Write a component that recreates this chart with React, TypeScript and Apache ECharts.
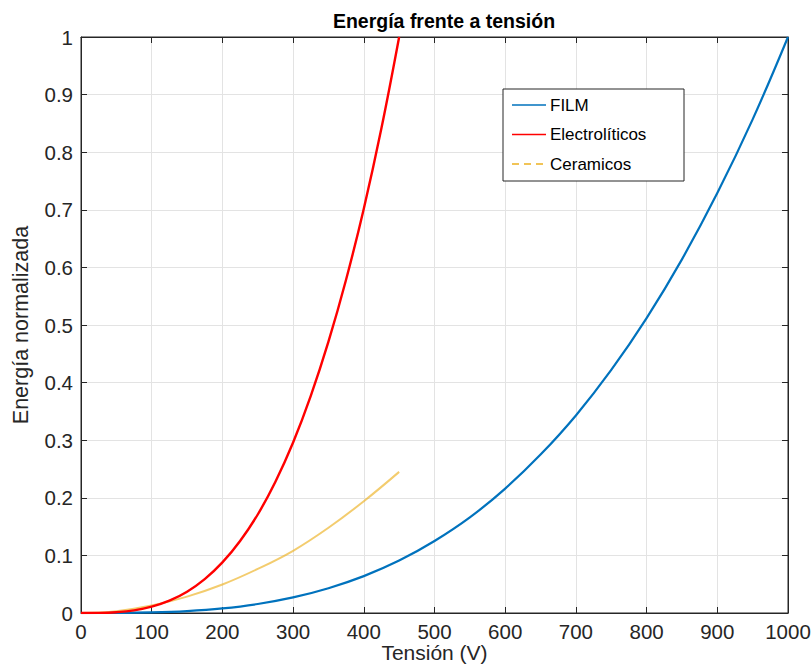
import React, { useEffect, useRef } from "react";
import * as echarts from "echarts";

const filmV = [0, 50, 100, 150, 200, 250, 300, 350, 400, 450, 500, 550, 600, 650, 700, 750, 800, 850, 900, 950, 1000];
const filmE = [0, 0.0001, 0.001, 0.0034, 0.008, 0.0156, 0.027, 0.043, 0.064, 0.091, 0.125, 0.166, 0.216, 0.275, 0.343, 0.422, 0.512, 0.614, 0.729, 0.857, 1.0];

const elecV = [0, 25, 50, 75, 100, 125, 150, 175, 200, 225, 250, 275, 300, 325, 350, 375, 400, 425, 450];
const elecE = [0, 0.0002, 0.0014, 0.0046, 0.011, 0.0214, 0.037, 0.0588, 0.0878, 0.125, 0.171, 0.228, 0.296, 0.377, 0.471, 0.579, 0.702, 0.842, 1.0];

const ceraV = [0, 50, 100, 150, 200, 250, 300, 350, 400, 450];
const ceraE = [0, 0.0032, 0.013, 0.0285, 0.0495, 0.0765, 0.108, 0.148, 0.194, 0.245];

const xTicks = [0, 100, 200, 300, 400, 500, 600, 700, 800, 900, 1000];
const yTicks = [0, 0.1, 0.2, 0.3, 0.4, 0.5, 0.6, 0.7, 0.8, 0.9, 1];

const FONT = "Liberation Sans, Arial, Helvetica, sans-serif";

export default function App() {
  const ref = useRef<HTMLDivElement>(null);
  useEffect(() => {
    if (!ref.current) return;
    const chart = echarts.init(ref.current, undefined, { renderer: "svg" });
    const pairs = (xs: number[], ys: number[]) => xs.map((x, i) => [x, ys[i]]);
    const axisCommon = {
      min: xTicks[0],
      max: xTicks[xTicks.length - 1],
      interval: 100,
    };
    const legendX = 503;
    const legendY = 89;
    const legendItems = [
      { name: "FILM", color: "#0072BD", dash: false },
      { name: "Electrolíticos", color: "#FF0000", dash: false },
      { name: "Ceramicos", color: "#EDB120", dash: true },
    ];
    const legendGraphics: any[] = [
      {
        type: "rect",
        shape: { x: legendX, y: legendY, width: 181, height: 92 },
        style: { fill: "#ffffff", stroke: "#262626", lineWidth: 1 },
        z: 100,
      },
    ];
    legendItems.forEach((it, i) => {
      const cy = legendY + 16 + i * 29.5;
      legendGraphics.push({
        type: "line",
        shape: { x1: legendX + 9, y1: cy, x2: legendX + 43, y2: cy },
        style: {
          stroke: it.color,
          lineWidth: 1.6,
          lineDash: it.dash ? [7, 5] : null,
        },
        z: 101,
      });
      legendGraphics.push({
        type: "text",
        x: legendX + 47,
        y: cy,
        style: {
          text: it.name,
          fill: "#000000",
          font: `17px ${FONT}`,
          verticalAlign: "middle",
          align: "left",
        },
        z: 101,
      });
    });

    chart.setOption({
      animation: false,
      backgroundColor: "#ffffff",
      title: {
        text: "Energía frente a tensión",
        left: 439,
        top: 6,
        textAlign: "center",
        textStyle: { fontFamily: FONT, fontSize: 19.5, fontWeight: "bold", color: "#000000" },
      },
      grid: {
        left: 81,
        right: 24,
        top: 37,
        bottom: 54,
        containLabel: false,
        outerBoundsMode: "none",
        show: true,
        borderColor: "#262626",
        borderWidth: 1,
      },
      xAxis: [
        {
          type: "value",
          ...axisCommon,
          name: "Tensión (V)",
          nameLocation: "middle",
          nameGap: 29,
          nameMoveOverlap: false,
          nameTextStyle: {
            fontFamily: FONT,
            fontSize: 21,
            color: "#262626",
            lineHeight: 21,
            verticalAlign: "top",
          },
          axisLine: { show: true, onZero: false, lineStyle: { color: "#262626", width: 1 } },
          axisTick: { show: true, inside: true, length: 6, lineStyle: { color: "#262626" } },
          axisLabel: {
            fontFamily: FONT,
            fontSize: 20.5,
            color: "#262626",
            margin: 8,
            formatter: (v: number) => String(v),
          },
          splitLine: { show: true, lineStyle: { color: "#e3e3e3", width: 1 } },
        },
        {
          type: "value",
          ...axisCommon,
          position: "top",
          axisLine: { show: true, onZero: false, lineStyle: { color: "#262626", width: 1 } },
          axisTick: { show: true, inside: true, length: 6, lineStyle: { color: "#262626" } },
          axisLabel: { show: false },
          splitLine: { show: false },
        },
      ],
      yAxis: [
        {
          type: "value",
          min: 0,
          max: 1,
          interval: 0.1,
          name: "Energía normalizada",
          nameLocation: "middle",
          nameGap: 49,
          nameMoveOverlap: false,
          nameTextStyle: { fontFamily: FONT, fontSize: 21.5, color: "#262626" },
          axisLine: { show: true, onZero: false, lineStyle: { color: "#262626", width: 1 } },
          axisTick: { show: true, inside: true, length: 6, lineStyle: { color: "#262626" } },
          axisLabel: {
            fontFamily: FONT,
            fontSize: 20.5,
            color: "#262626",
            margin: 8,
            formatter: (v: number) => {
              const t = yTicks.find((y) => Math.abs(y - v) < 1e-9);
              return t === undefined ? "" : String(Math.round(t * 10) / 10);
            },
          },
          splitLine: { show: true, lineStyle: { color: "#e3e3e3", width: 1 } },
        },
        {
          type: "value",
          min: 0,
          max: 1,
          interval: 0.1,
          position: "right",
          axisLine: { show: true, onZero: false, lineStyle: { color: "#262626", width: 1 } },
          axisTick: { show: true, inside: true, length: 6, lineStyle: { color: "#262626" } },
          axisLabel: { show: false },
          splitLine: { show: false },
        },
      ],
      series: [
        {
          name: "FILM",
          type: "line",
          data: pairs(filmV, filmE),
          showSymbol: false,
          smooth: 0.4,
          lineStyle: { color: "#0072BD", width: 2.2 },
          z: 3,
        },
        {
          name: "Electrolíticos",
          type: "line",
          data: pairs(elecV, elecE),
          showSymbol: false,
          smooth: 0.4,
          lineStyle: { color: "#FF0000", width: 2.4 },
          z: 4,
        },
        {
          name: "Ceramicos",
          type: "line",
          data: pairs(ceraV, ceraE),
          showSymbol: false,
          smooth: 0.4,
          lineStyle: { color: "#EDB120", width: 2, opacity: 0.65 },
          z: 2,
        },
      ],
      graphic: legendGraphics,
    });
    return () => chart.dispose();
  }, []);
  return <div ref={ref} style={{ width: 812, height: 667, position: "absolute", left: 0, top: 0 }} />;
}
